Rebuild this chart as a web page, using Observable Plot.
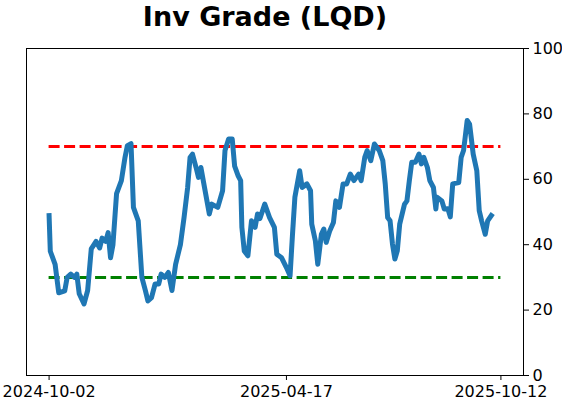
<!DOCTYPE html>
<html>
<head>
<meta charset="utf-8">
<script src="https://cdn.jsdelivr.net/npm/d3@7"></script>
<script src="https://cdn.jsdelivr.net/npm/@observablehq/plot@0.6"></script>
<style>
  html, body { margin: 0; padding: 0; background: #fff; }
  #wrap { position: relative; width: 562px; height: 402px; }
  #title { position: absolute; top: 2px; left: 265px; transform: translateX(-50%);
           font-family: "DejaVu Sans", sans-serif; font-weight: bold; font-size: 27px;
           line-height: 1.1; white-space: nowrap; color: #000; }
</style>
</head>
<body>
<div id="wrap"><div id="title">Inv Grade (LQD)</div></div>
<script>
const dates = [
  "2024-10-02","2024-10-03","2024-10-07","2024-10-10","2024-10-15","2024-10-17","2024-10-20","2024-10-23","2024-10-25","2024-10-27",
  "2024-10-31","2024-11-03","2024-11-06","2024-11-10","2024-11-13","2024-11-15","2024-11-18","2024-11-20","2024-11-22","2024-11-24",
  "2024-11-27","2024-12-01","2024-12-04","2024-12-06","2024-12-09","2024-12-11","2024-12-15","2024-12-18","2024-12-21","2024-12-23",
  "2024-12-26","2024-12-29","2025-01-01","2025-01-03","2025-01-06","2025-01-09","2025-01-12","2025-01-15","2025-01-19","2025-01-22",
  "2025-01-25","2025-01-27","2025-01-29","2025-02-01","2025-02-03","2025-02-05","2025-02-08","2025-02-12","2025-02-14","2025-02-19",
  "2025-02-23","2025-02-25","2025-02-28","2025-03-03","2025-03-05","2025-03-08","2025-03-10","2025-03-11","2025-03-13","2025-03-16",
  "2025-03-19","2025-03-22","2025-03-24","2025-03-26","2025-03-30","2025-04-03","2025-04-07","2025-04-09","2025-04-13","2025-04-17",
  "2025-04-20","2025-04-22","2025-04-24","2025-04-28","2025-04-30","2025-05-04","2025-05-07","2025-05-08","2025-05-11","2025-05-13",
  "2025-05-16","2025-05-18","2025-05-20","2025-05-23","2025-05-26","2025-05-28","2025-05-31","2025-06-03","2025-06-06","2025-06-09",
  "2025-06-12","2025-06-16","2025-06-18","2025-06-21","2025-06-23","2025-06-26","2025-06-29","2025-07-03","2025-07-06","2025-07-08",
  "2025-07-10","2025-07-12","2025-07-14","2025-07-16","2025-07-18","2025-07-20","2025-07-24","2025-07-26","2025-07-28","2025-07-30",
  "2025-08-02","2025-08-05","2025-08-07","2025-08-09","2025-08-12","2025-08-14","2025-08-17","2025-08-19","2025-08-20","2025-08-24",
  "2025-08-26","2025-08-29","2025-08-31","2025-09-02","2025-09-07","2025-09-09","2025-09-11","2025-09-12","2025-09-14","2025-09-16",
  "2025-09-19","2025-09-22","2025-09-24","2025-09-26","2025-09-29","2025-10-01","2025-10-04"
];
const values = [
  48.9,38,34,25.3,25.9,30,31,30,31,25,
  21.9,26,38.7,41,39,42,41,43.7,36,40,
  55.6,59.6,66.7,70.3,70.9,51.4,47.3,30,25.9,22.8,
  23.8,28,28,31,30,31.5,26,34,40,48.3,
  57.5,66.7,67.7,63.6,60.6,63.6,57.5,49.4,52.4,51.4,
  56.5,68.8,72.3,72.3,64,61,59.6,45.3,38.1,36.6,
  47.3,45.3,49.4,48,52.4,48.3,45.3,37.1,36,33,
  30.5,43,54.5,62.6,57.5,58.6,56.5,46.3,41.2,34,
  43.2,44.8,40.7,44.3,46.8,53.4,51.4,58.6,58.6,61.6,
  59.6,61.6,59.6,66.7,68.8,65.7,70.8,68.8,65.7,58.6,
  48.3,47.3,40.2,35.6,38.1,46.3,52.4,53.4,59.6,65.2,
  65.2,67.7,64.7,66.7,63.6,59.6,57.5,50.9,54.5,53.4,
  50.9,51,48.5,58.6,59,66.7,68.8,71.8,78,76.9,
  67.7,62.6,50.4,47.3,43.2,47.3,48.9
];
const xTicks = ["2024-10-02","2025-04-17","2025-10-12"];
const yTicks = [0,20,40,60,80,100];
const levels = [70, 30];
const levelColors = ["#ff0000", "#008000"];

const data = dates.map((d, i) => ({date: new Date(d), value: values[i]}));
const t0 = new Date(xTicks[0]);
const t1 = new Date(xTicks[xTicks.length - 1]);
const pad = (t1 - t0) * 0.05;
const refLines = levels.map((v, i) => ({y: v, x1: t0, x2: t1, c: levelColors[i]}));

const chart = Plot.plot({
  width: 562,
  height: 402,
  marginTop: 48,
  marginBottom: 27,
  marginLeft: 26,
  marginRight: 39,
  style: {fontFamily: "DejaVu Sans, sans-serif", fontSize: "16px", color: "#000", background: "#fff"},
  x: {type: "utc", domain: [new Date(+t0 - pad), new Date(+t1 + pad)], ticks: xTicks.map(d => new Date(d)),
      tickFormat: d3.utcFormat("%Y-%m-%d"), label: null},
  y: {domain: [0, 100], ticks: yTicks, label: null},
  marks: [
    Plot.ruleY(refLines, {y: "y", x1: "x1", x2: "x2", stroke: "c", strokeWidth: 3, strokeDasharray: "11,4.5"}),
    Plot.line(data, {x: "date", y: "value", stroke: "#1f77b4", strokeWidth: 5, strokeLinejoin: "round", strokeLinecap: "square"}),
    Plot.frame({stroke: "#000", strokeWidth: 1}),
    Plot.axisX({ticks: xTicks.map(d => new Date(d)), tickFormat: d3.utcFormat("%Y-%m-%d"), tickSize: 5, tickPadding: 5, label: null, fontSize: 16}),
    Plot.axisY({anchor: "right", ticks: yTicks, tickSize: 5, tickPadding: 4, label: null, fontSize: 16})
  ]
});
document.getElementById("wrap").appendChild(chart);
</script>
</body>
</html>
